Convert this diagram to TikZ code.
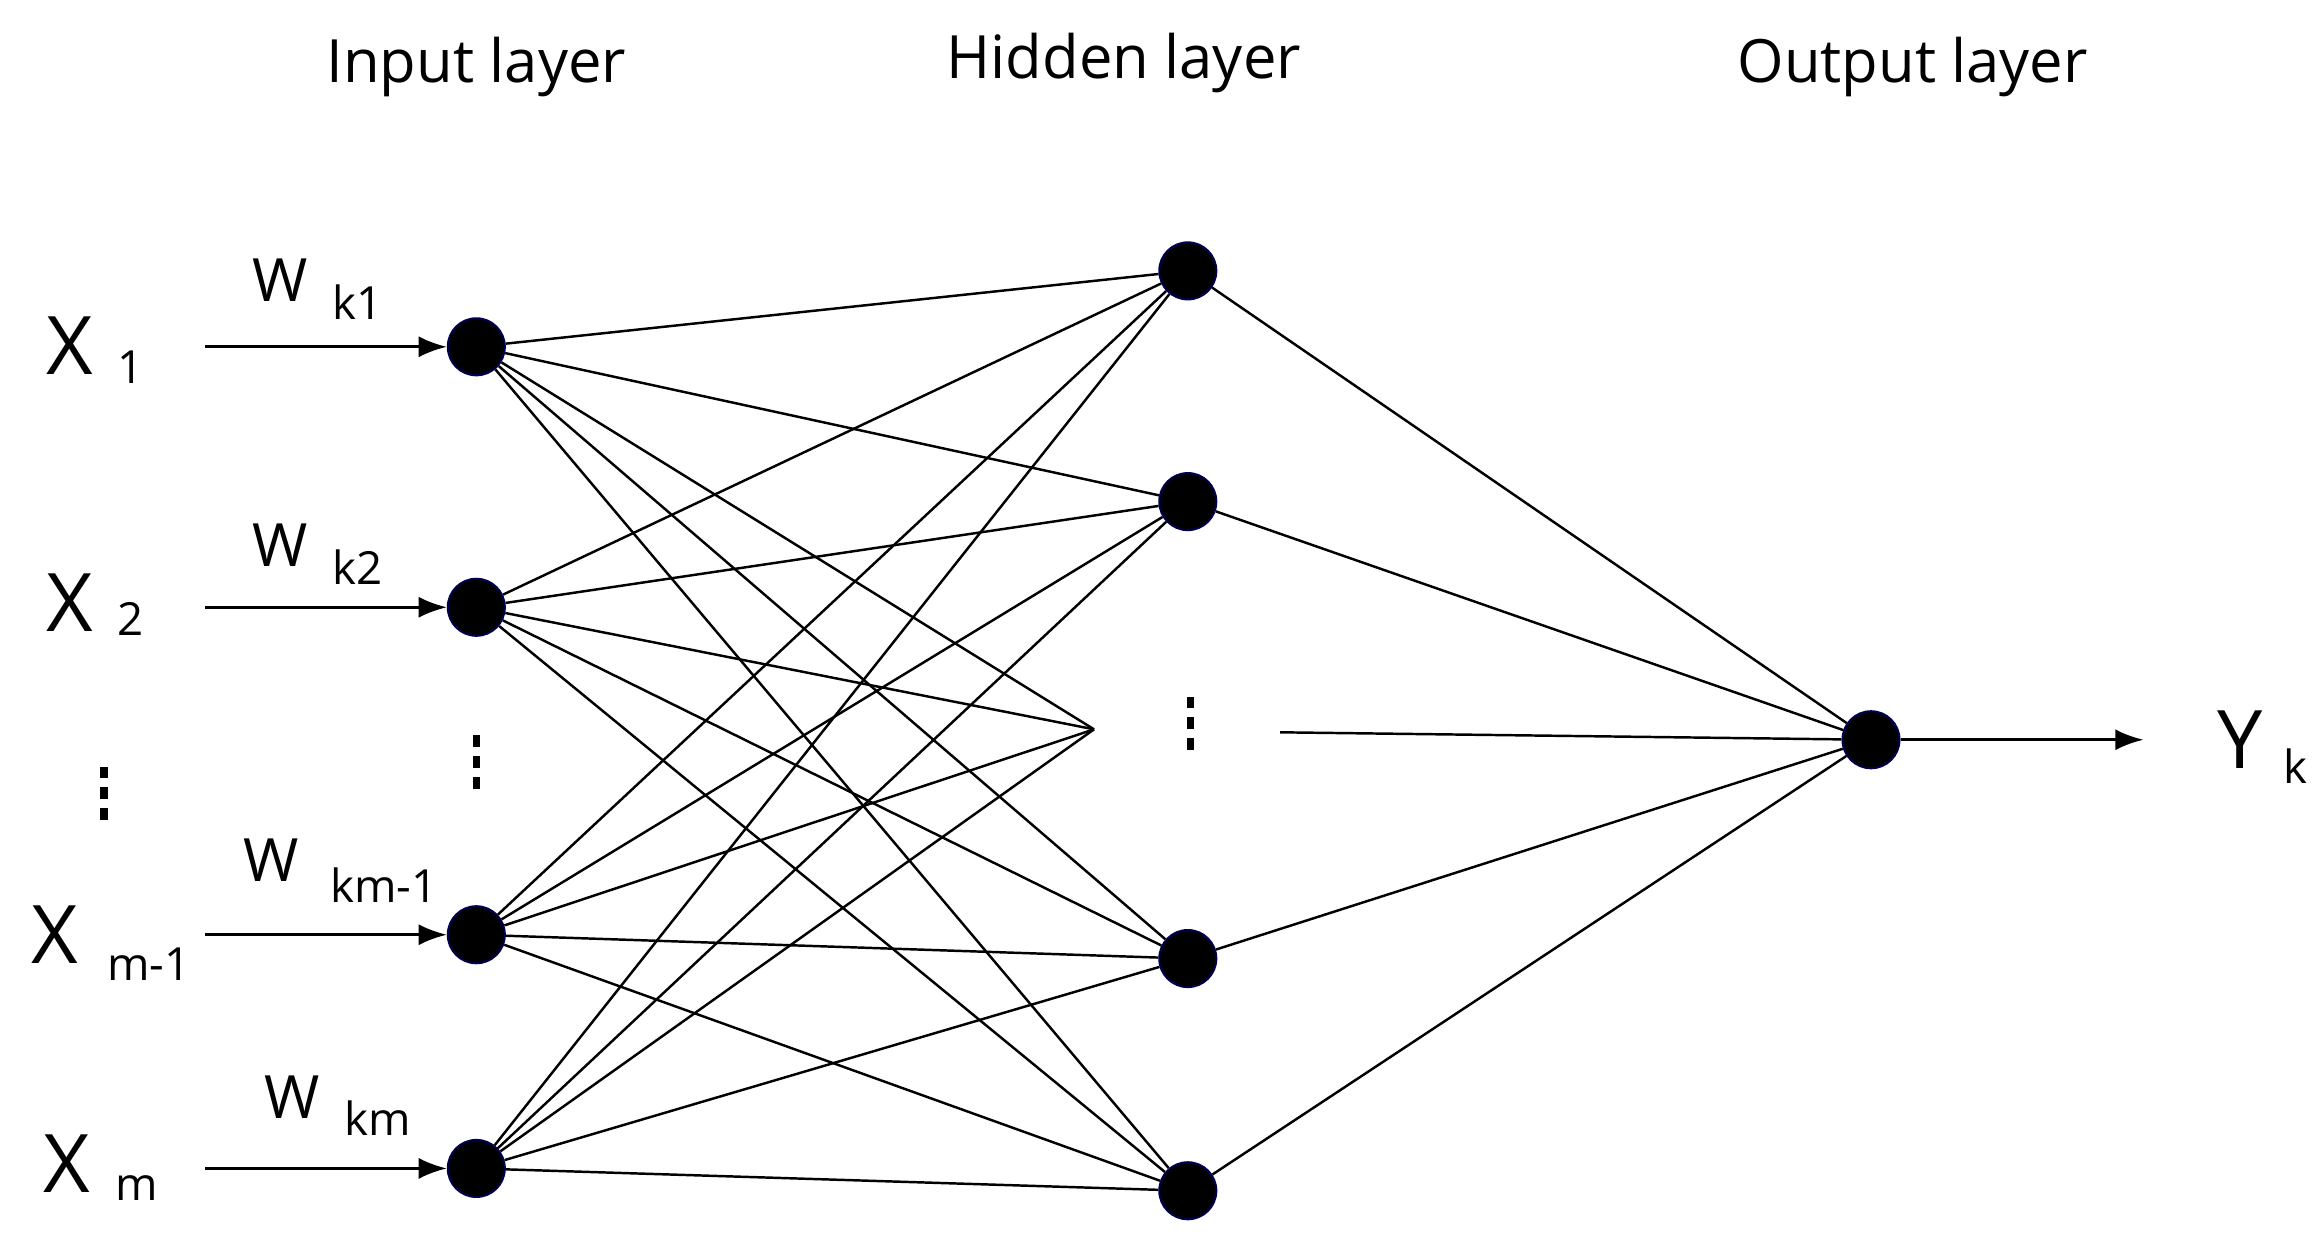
\documentclass[tikz,border=0pt]{standalone}
\usepackage{fontspec}
\setmainfont{Open Sans}
\usetikzlibrary{arrows.meta}
\begin{document}
\begin{tikzpicture}[x=0.014885cm,y=-0.014885cm,
  neuron/.style={circle,fill=black,draw=black!70!blue,line width=0.6pt,minimum size=0.57cm,inner sep=0},
  ln/.style={line width=0.7pt},
  arr/.style={line width=0.8pt,-{Latex[length=8pt,width=6pt]}},
  big/.style={font=\fontsize{23}{26}\selectfont},
  sub/.style={font=\fontsize{13}{16}\selectfont},
  mid/.style={font=\fontsize{17}{20}\selectfont},
  tit/.style={font=\fontsize{17}{20}\selectfont}]
\useasboundingbox (0,0) rectangle (1560,830);
\node[tit] (t1) at (320,45) {Input layer};
\node[tit] (t2) at (755,42) {Hidden layer};
\node[tit] (t3) at (1285,45) {Output layer};
\node[neuron] (i1) at (320,233) {};
\node[neuron] (i2) at (320,408) {};
\node[neuron] (i3) at (320,628) {};
\node[neuron] (i4) at (320,785) {};
\node[neuron] (h1) at (798,182) {};
\node[neuron] (h2) at (798,337) {};
\node[neuron] (h3) at (798,644) {};
\node[neuron] (h4) at (798,800) {};
\coordinate (hm) at (735,490);
\coordinate (hd) at (860,492);
\node[neuron] (o) at (1257,497) {};
\foreach \i in {i1,i2,i3,i4}{
  \foreach \h in {h1,h2,h3,h4}{\draw[ln] (\i) -- (\h);}
  \draw[ln] (\i) -- (hm);
}
\foreach \h in {h1,h2,h3,h4}{\draw[ln] (\h) -- (o);}
\draw[ln] (hd) -- (o);
\coordinate (a1) at (138,233); \coordinate (a2) at (138,408);
\coordinate (a3) at (138,628); \coordinate (a4) at (138,785);
\draw[arr] (a1) -- (i1); \draw[arr] (a2) -- (i2);
\draw[arr] (a3) -- (i3); \draw[arr] (a4) -- (i4);
\coordinate (y) at (1440,497);
\draw[arr] (o) -- (y);
\node[big] (x1) at (47,232) {X}; \node[sub] (x1s) at (88,247) {1};
\node[big] (x2) at (47,405) {X}; \node[sub] (x2s) at (88,416) {2};
\node[big] (x3) at (37,628) {X}; \node[sub] (x3s) at (100,648) {m-1};
\node[big] (x4) at (45,782) {X}; \node[sub] (x4s) at (92,798) {m};
\node[mid] (w1) at (188,188) {W}; \node[sub] (w1s) at (240,203) {k1};
\node[mid] (w2) at (188,366) {W}; \node[sub] (w2s) at (240,381) {k2};
\node[mid] (w3) at (182,578) {W}; \node[sub] (w3s) at (258,595) {km-1};
\node[mid] (w4) at (196,737) {W}; \node[sub] (w4s) at (254,751) {km};
\node[big] (yk) at (1505,497) {Y}; \node[sub] (yks) at (1542,515) {k};
\foreach \x/\y in {70/533,320/512,800/486}{
  \foreach \d in {-14,0,14}{\fill (\x-2.5,\y+\d-4) rectangle (\x+2.5,\y+\d+4);}
}
\end{tikzpicture}
\end{document}
